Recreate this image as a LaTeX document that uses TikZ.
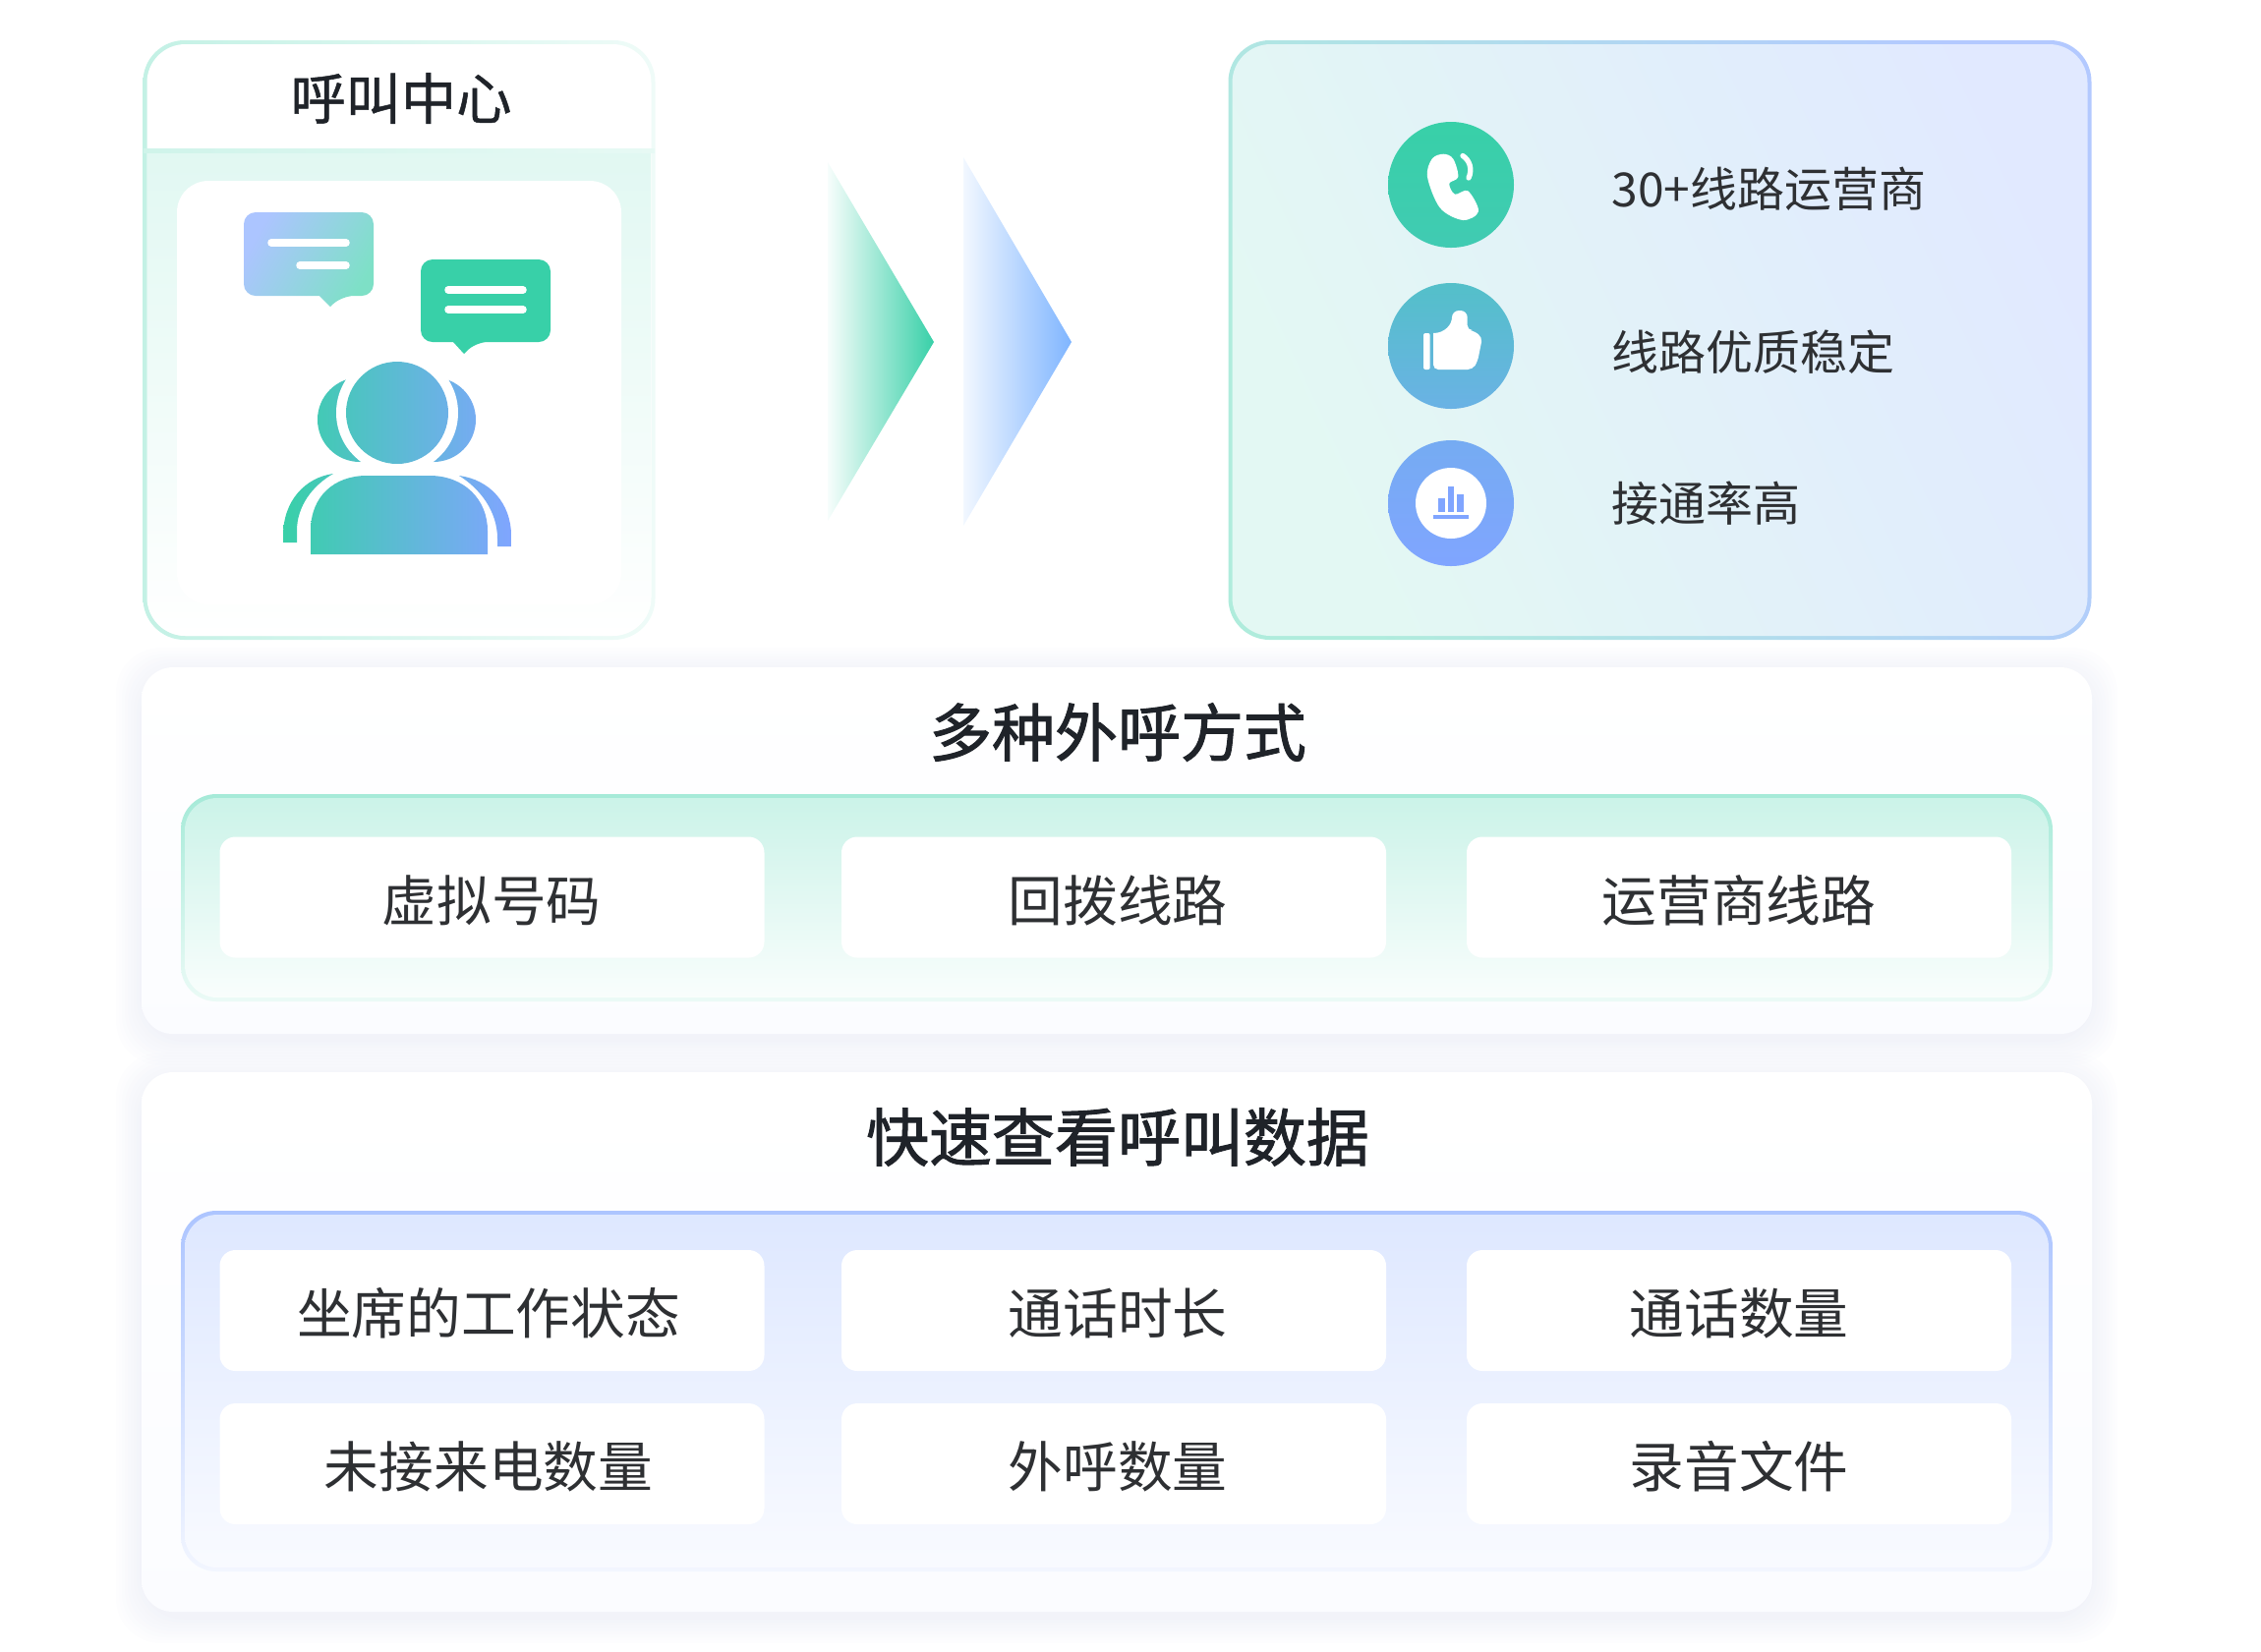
\documentclass[tikz,border=0pt]{standalone}
\usepackage{fontspec}
\usepackage{xcolor}
\setmainfont{Noto Sans CJK SC}
\newfontfamily\midfont[FakeBold=0.9]{Noto Sans CJK SC}
\newfontfamily\headfont[FakeBold=1.5]{Noto Sans CJK SC}
\usetikzlibrary{positioning}

\definecolor{mint}{HTML}{38D0A8}
\definecolor{periwinkle}{HTML}{80A5FF}
\definecolor{skyblue}{HTML}{7FB5FF}
\definecolor{inkdark}{HTML}{1F2329}
\definecolor{inktext}{HTML}{2E3033}
\definecolor{halo}{HTML}{D8DCEE}

\tikzset{
    panelbox/.style={rectangle, inner sep=0pt, rounded corners=3.2mm, top color=white, bottom color=white!97!periwinkle},
    cellbox/.style={rectangle, inner sep=0pt, fill=white, rounded corners=1.6mm, minimum width=55.4mm, minimum height=12.3mm},
    celltext/.style={inner sep=0pt, text=inktext, font=\fontsize{15.85pt}{18pt}\selectfont},
    titletext/.style={inner sep=0pt, text=inkdark, font=\fontsize{18.2pt}{22pt}\selectfont\headfont},
    sidetext/.style={anchor=west, inner sep=0pt, text=inktext, font=\fontsize{13.65pt}{16pt}\selectfont},
    iconbase/.style={circle, inner sep=0pt, minimum size=12.8mm},
    msgline/.style={white, line width=0.75mm, line cap=round},
}

\begin{document}
\begin{tikzpicture}[x=0.1mm, y=-0.1mm]
    \useasboundingbox (0,0) rectangle (2300,1680);

    % Soft halo round the lower panels
    \foreach \ptop/\pbot in {679/1052, 1091/1640} {
        \foreach \s in {26,23,20,17,14,11,8,5,2} {
            \fill[halo, opacity=0.045, rounded corners=4.5mm] (144-\s,\ptop-\s+6) rectangle (2128+\s,\pbot+\s+6);
        }
    }

    % Call centre box
    \node[rectangle, inner sep=0pt, rounded corners=4.2mm, left color=mint!30!white, right color=mint!8!white,
        minimum width=52.1mm, minimum height=61mm] (centerrim) at (406,346) {};
    \node[rectangle, inner sep=0pt, rounded corners=3.9mm, fill=white,
        minimum width=51.3mm, minimum height=60.2mm] (centerface) at (406,346) {};
    \shade[top color=mint!15!white, bottom color=white] (150,155) -- (662,155) [rounded corners=3.9mm] -- (662,647) -- (150,647) [sharp corners] -- cycle;
    \shade[left color=mint!24!white, right color=mint!12!white] (146,151) rectangle (666,155);
    \node[rectangle, inner sep=0pt, rounded corners=3.2mm, fill=white,
        minimum width=45.2mm, minimum height=43.1mm] (centercard) at (406,399.5) {};
    \node[inner sep=0pt, text=inkdark, font=\fontsize{16pt}{18pt}\selectfont\midfont] (centertitle) at (408,100) {呼叫中心};

    % Speech bubbles
    \shade[left color=periwinkle!65!white, right color=mint!65!white, shading angle=60]
        (325,301) [rounded corners=1.2mm] -- (248,301) -- (248,216) -- (380,216) -- (380,301) -- (348,301) [sharp corners] -- (336,312) -- cycle;
    \draw[msgline] (276,247) -- (352,247);
    \draw[msgline] (305,270) -- (352,270);
    \fill[mint]
        (461,348) [rounded corners=1.2mm] -- (428,348) -- (428,264) -- (560,264) -- (560,348) -- (484,348) [sharp corners] -- (472,360) -- cycle;
    \draw[msgline] (456,295) -- (532,295);
    \draw[msgline] (456,315) -- (532,315);

    % Agent figure, back pair
    \begin{scope}
        \clip (366,427) circle [radius=43] (441,427) circle [radius=43]
            (339,482) .. controls (310,486) and (288,510) .. (288,545) -- (288,552) -- (302,552) -- (302,540) .. controls (302,515) and (318,494) .. (339,482)
            (467,484) .. controls (498,488) and (520,512) .. (520,545) -- (520,556) -- (506,556) -- (506,548) .. controls (506,520) and (488,497) .. (467,484);
        \shade[left color=mint, right color=periwinkle] (288,370) rectangle (520,570);
    \end{scope}
    \fill[white] (404,420) ellipse [x radius=62, y radius=62];

    % Agent figure, front
    \begin{scope}
        \clip (404,420) circle [radius=52]
            (316,564) -- (316,540) .. controls (316,505) and (340,484) .. (373,484) -- (437,484) .. controls (472,484) and (496,508) .. (496,540) -- (496,564) -- cycle;
        \shade[left color=mint, right color=periwinkle] (288,360) rectangle (520,570);
    \end{scope}

    % Chevrons
    \shade[left color=mint!4!white, right color=mint] (842,165) -- (950,348) -- (842,530) -- cycle;
    \shade[left color=skyblue!10!white, right color=skyblue] (980,160) -- (1090,348) -- (980,535) -- cycle;

    % Carrier box
    \node[rectangle, inner sep=0pt, rounded corners=4.2mm, left color=mint!40!white, right color=periwinkle!60!white, shading angle=115,
        minimum width=87.8mm, minimum height=61mm] (carrierrim) at (1688.5,346) {};
    \node[rectangle, inner sep=0pt, rounded corners=3.9mm, left color=mint!14!white, right color=periwinkle!24!white, shading angle=115,
        minimum width=87mm, minimum height=60.2mm] (carrierface) at (1688.5,346) {};

    % Icons
    \node[iconbase, top color=mint, bottom color=mint!88!periwinkle] (phonedisc) at (1476,188) {};
    \node[iconbase, top color=mint!62!periwinkle, bottom color=mint!30!periwinkle] (thumbdisc) at (1476,352) {};
    \node[iconbase, top color=mint!15!periwinkle, bottom color=periwinkle] (chartdisc) at (1476,512) {};

    \fill[white] plot[smooth cycle, tension=0.55] coordinates {(1468.3,156.7) (1478.3,161.7) (1483.3,180) (1474.3,186.7) (1480,197.7) (1493.3,194.3) (1504,215) (1488.3,224) (1465,211.7) (1452,180) (1456.7,161.7)};
    \draw[white, line width=0.53mm, line cap=round] (1488,158.5) .. controls (1495,163) and (1498,172) .. (1494,181);

    \fill[white, rounded corners=0.2mm] (1448,339) rectangle (1454.7,376);
    \fill[white, rounded corners=0.5mm] (1458,343) -- (1458,376) -- (1498,376) -- (1503,368) -- (1508,343) -- (1498,336) -- (1492.7,336) [rounded corners=0.7mm] -- (1492.7,316) -- (1477,316) [sharp corners] .. controls (1477,330) and (1470,339) .. (1458,339) -- cycle;

    \node[circle, inner sep=0pt, minimum size=7.2mm, fill=white] (chartface) at (1476,512) {};
    \fill[periwinkle] (1463,507.3) rectangle (1470,521.3);
    \fill[periwinkle] (1472.7,495.3) rectangle (1479.3,521.3);
    \fill[periwinkle] (1482,503) rectangle (1489,521.3);
    \fill[periwinkle] (1458.3,524) rectangle (1493.7,528.3);

    % Carrier labels
    \node[sidetext] (carriercount) at (1639,192) {30+线路运营商};
    \node[sidetext] (linequality) at (1639,358) {线路优质稳定};
    \node[sidetext] (connectrate) at (1639,512) {接通率高};

    % Calling modes panel
    \node[panelbox, minimum width=198.4mm, minimum height=37.3mm] (modepanel) at (1136,865.5) {};
    \node[titletext] (modetitle) at (1137,745) {多种外呼方式};
    \node[rectangle, inner sep=0pt, rounded corners=3.6mm, top color=mint!45!white, bottom color=mint!10!white,
        minimum width=190.4mm, minimum height=21.1mm] (moderim) at (1136,913.5) {};
    \node[rectangle, inner sep=0pt, rounded corners=3.3mm, top color=mint!26!white, bottom color=mint!3!white,
        minimum width=189.6mm, minimum height=20.3mm] (modeband) at (1136,913.5) {};
    \node[cellbox] (virtualno) at (500.5,913) {};
    \node[cellbox] (callback) at (1133,913) {};
    \node[cellbox] (carrierline) at (1769,913) {};
    \node[celltext] (virtualnotext) at (500,916) {虚拟号码};
    \node[celltext] (callbacktext) at (1137,916) {回拨线路};
    \node[celltext] (carrierlinetext) at (1769,916) {运营商线路};

    % Call data panel
    \node[panelbox, minimum width=198.4mm, minimum height=54.9mm] (datapanel) at (1136,1365.5) {};
    \node[titletext] (datatitle) at (1137,1157) {快速查看呼叫数据};
    \node[rectangle, inner sep=0pt, rounded corners=3.6mm, top color=periwinkle!65!white, bottom color=periwinkle!10!white,
        minimum width=190.4mm, minimum height=36.7mm] (datarim) at (1136,1415.5) {};
    \node[rectangle, inner sep=0pt, rounded corners=3.3mm, top color=periwinkle!26!white, bottom color=periwinkle!5!white,
        minimum width=189.6mm, minimum height=35.9mm] (databand) at (1136,1415.5) {};
    \node[cellbox] (agentstate) at (500.5,1333.5) {};
    \node[cellbox] (talktime) at (1133,1333.5) {};
    \node[cellbox] (callcount) at (1769,1333.5) {};
    \node[cellbox] (missedcount) at (500.5,1489.5) {};
    \node[cellbox] (outcount) at (1133,1489.5) {};
    \node[cellbox] (recordfile) at (1769,1489.5) {};
    \node[celltext] (agentstatetext) at (497,1336.5) {坐席的工作状态};
    \node[celltext] (talktimetext) at (1137,1336.5) {通话时长};
    \node[celltext] (callcounttext) at (1769,1336.5) {通话数量};
    \node[celltext] (missedcounttext) at (497,1492.5) {未接来电数量};
    \node[celltext] (outcounttext) at (1137,1492.5) {外呼数量};
    \node[celltext] (recordfiletext) at (1769,1492.5) {录音文件};
\end{tikzpicture}
\end{document}
